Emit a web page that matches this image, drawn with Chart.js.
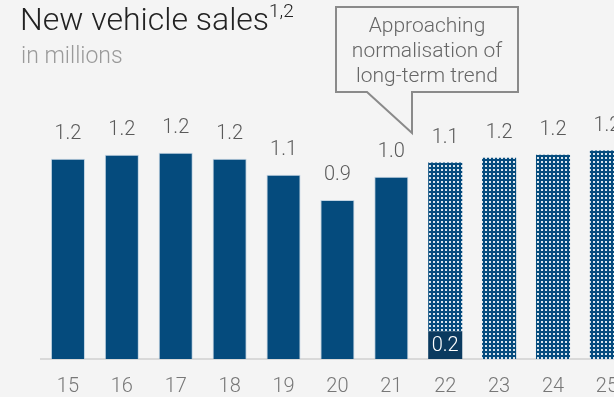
<!DOCTYPE html>
<html>
<head>
<meta charset="utf-8">
<script src="https://cdn.jsdelivr.net/npm/chart.js@4.4.1/dist/chart.umd.min.js"></script>
<style>
  html, body { margin: 0; padding: 0; background: #f4f4f4; overflow: hidden; }
  #wrap { position: relative; width: 614px; height: 397px; overflow: hidden; font-family: Roboto, sans-serif; font-weight: 300; }
  #chartBox { position: absolute; left: 0; top: 0; width: 634px; height: 415px; }
  #title { position: absolute; left: 20px; top: 0px; font-size: 32px; color: #222; white-space: nowrap; }
  #title sup { font-size: 19px; vertical-align: 13px; line-height: 0; }
  #subtitle { position: absolute; left: 21px; top: 42px; font-size: 23px; color: #9a9a9a; }
  #callout { position: absolute; left: 0; top: 0; }
  #calloutText { position: absolute; left: 336px; top: 13px; width: 182px; text-align: center; font-size: 21px; line-height: 25px; color: #666; }
</style>
</head>
<body>
<div id="wrap">
  <div id="chartBox"><canvas id="salesChart" width="634" height="415"></canvas></div>
  <div id="title">New vehicle sales<sup>1,2</sup></div>
  <div id="subtitle">in millions</div>
  <svg id="callout" width="614" height="397">
    <path d="M336,7 H518 V92 H412 V133 L367,92 H336 Z" fill="#f4f4f4" stroke="#8a8a8a" stroke-width="2"/>
  </svg>
  <div id="calloutText">Approaching<br>normalisation of<br>long-term trend</div>
</div>
<script>
const years = ['15', '16', '17', '18', '19', '20', '21', '22', '23', '24', '25'];
const salesActual = [1.152, 1.175, 1.187, 1.152, 1.06, 0.915, 1.048, null, null, null, null];
const salesYtd = [null, null, null, null, null, null, null, 0.16, null, null, null];
const salesForecast = [null, null, null, null, null, null, null, 0.97, 1.158, 1.175, 1.199];

const navy = '#054b7d';

function dotPattern() {
  const c = document.createElement('canvas');
  c.width = 4;
  c.height = 4;
  const g = c.getContext('2d');
  g.fillStyle = navy;
  g.fillRect(0, 0, 4, 4);
  g.fillStyle = 'rgba(255,255,255,0.85)';
  g.fillRect(1, 1, 2, 2);
  return g.createPattern(c, 'repeat');
}

// totals above bars, plus white value inside the dark segment
const barLabels = {
  id: 'barLabels',
  afterDatasetsDraw(chart) {
    const ctx = chart.ctx;
    ctx.save();
    ctx.font = '300 20px Roboto';
    ctx.textAlign = 'center';
    ctx.textBaseline = 'middle';
    years.forEach((y, i) => {
      let total = 0;
      let top = null;
      let x = null;
      chart.data.datasets.forEach((ds, d) => {
        const v = ds.data[i];
        if (v == null) return;
        total += v;
        const el = chart.getDatasetMeta(d).data[i];
        if (top === null || el.y < top) top = el.y;
        x = el.x;
      });
      ctx.fillStyle = '#5a5a5a';
      ctx.fillText(total.toFixed(1), x, top - 25);
    });
    const meta = chart.getDatasetMeta(1);
    salesYtd.forEach((v, i) => {
      if (v == null) return;
      const el = meta.data[i];
      ctx.fillStyle = '#ffffff';
      ctx.fillText(v.toFixed(1), el.x, (el.y + el.base) / 2 + 1);
    });
    ctx.restore();
  }
};

const ctx = document.getElementById('salesChart').getContext('2d');
new Chart(ctx, {
  type: 'bar',
  data: {
    labels: years,
    datasets: [
      {
        label: 'Actual',
        data: salesActual,
        backgroundColor: navy,
        borderColor: 'rgba(160,190,215,0.6)',
        borderWidth: 1,
        borderSkipped: 'bottom'
      },
      {
        label: 'YTD',
        data: salesYtd,
        backgroundColor: '#0b3a5f',
        borderWidth: 0
      },
      {
        label: 'Forecast',
        data: salesForecast,
        backgroundColor: dotPattern(),
        borderWidth: 0
      }
    ]
  },
  options: {
    responsive: false,
    animation: false,
    layout: { padding: { left: 41, right: 0, top: 100, bottom: 0 } },
    plugins: { legend: { display: false }, tooltip: { enabled: false } },
    datasets: { bar: { categoryPercentage: 1, barPercentage: 0.632 } },
    scales: {
      x: {
        stacked: true,
        grid: { display: false, drawTicks: false },
        border: { color: '#d9d9d9', width: 2 },
        ticks: { color: '#777', font: { family: 'Roboto', size: 20, weight: 300 }, padding: 16 }
      },
      y: {
        stacked: true,
        display: false,
        min: 0,
        max: 1.49
      }
    }
  },
  plugins: [barLabels]
});
</script>
</body>
</html>
